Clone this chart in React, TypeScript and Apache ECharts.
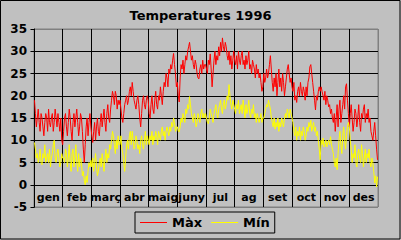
import React, { useEffect, useRef } from 'react';
import * as echarts from 'echarts';

const months = ['gen', 'feb', 'març', 'abr', 'maig', 'juny', 'jul', 'ag', 'set', 'oct', 'nov', 'des'];
const seriesNames = ['Màx', 'Mín'];

const maxJan = [19, 16, 13, 15, 17, 14, 12, 16, 15, 13, 11, 14, 16, 15, 12, 17, 14, 13, 15, 16, 12, 14, 17, 15, 13, 16, 14, 12, 15, 10, 9];
const maxFeb = [12, 15, 16, 13, 11, 14, 17, 15, 12, 10, 14, 16, 13, 15, 17, 14, 11, 13, 16, 15, 12, 8, 5, 9, 13, 15, 11, 14, 16];
const maxMar = [13, 11, 9.5, 12, 14, 10, 13, 15, 12, 11, 14, 16, 13, 15, 17, 14, 12, 16, 18, 15, 14, 17, 19, 21, 20, 18, 21, 20, 17, 19, 18];
const maxApr = [19, 17, 15, 14, 16, 18, 19, 20, 18, 19, 21, 22, 20, 23, 21, 19, 18, 17, 19, 20, 18, 15, 13, 16, 19, 20, 18, 17, 19, 20];
const maxMay = [19, 16, 15, 18, 20, 17, 16, 19, 21, 18, 17, 20, 19, 22, 20, 18, 21, 23, 22, 25, 24, 22, 26, 25, 27, 26, 28, 29.5, 27, 25, 22];
const maxJun = [23, 20, 18.6, 24, 27, 26, 28, 25, 27, 29, 28, 30, 31, 32, 30, 28, 29, 27, 26, 28, 27, 25, 24, 23.8, 26, 27, 25, 28, 26, 27];
const maxJul = [27, 26, 25, 28, 27, 29.4, 26, 22, 25, 28, 30, 27, 29, 28, 31, 29, 32, 30, 33, 31, 30, 32, 31, 29, 28, 30, 27, 29, 26, 28, 30];
const maxAug = [28, 27, 29, 26, 30, 28, 27, 29, 30, 27, 28, 26, 29, 27, 28, 30, 26, 27, 25, 28, 27, 26, 24, 27, 25, 26, 24, 25, 23, 21, 22];
const maxSep = [25, 23, 24, 26, 24, 25, 27, 29, 26, 23, 21, 24, 22, 25, 20, 23, 26, 22, 24, 21, 25, 23, 20, 22, 24, 26, 27, 25, 23, 24];
const maxOct = [22, 21, 23, 19, 20, 18.5, 21, 22, 20, 23, 21, 20, 22, 21, 19, 22, 20, 23, 24, 26.5, 27, 25, 23, 21, 19, 16.8, 20, 19, 21, 22, 21];
const maxNov = [22, 21, 20, 19, 21, 18, 20, 19, 17.5, 18, 16, 17, 15, 14, 16, 12, 15, 18, 13, 17, 19, 14, 16, 18, 20, 17, 22, 22.7, 19, 16];
const maxDec = [13, 16, 18, 15, 12, 14, 17, 16, 13, 15, 18, 14, 12, 16, 15, 17, 18, 14, 16, 15, 17, 14, 15, 12, 11, 10, 12, 14, 11, 8, 5.6];

const minJan = [9.5, 8, 6, 7, 5, 6, 8, 5, 4.5, 7, 6, 9, 5, 6, 7, 5, 8, 4, 6, 7, 9, 10, 6, 5, 7, 8, 6, 4, 5, 7, 6];
const minFeb = [6, 5, 8, 7, 4, 6, 9, 5, 3, 7, 8, 4, 6, 9, 5, 3, 7, 4, 6, 5, 2, 3, 1, 0, 2, 0.5, 3, 5, 4];
const minMar = [5.5, 4, 6, 3, 5, 7, 4, 2, 3, 5, 6, 4, 7, 5, 3, 6, 8, 5, 7, 6, 9, 8, 10, 12, 11, 9, 7, 10, 8, 11, 9];
const minApr = [9, 11, 8, 7, 5, 3, 6, 9, 10, 8, 11, 12, 9, 12, 10, 8, 9, 11, 10, 8, 9, 7, 10, 11, 9, 8, 10, 12, 9, 11];
const minMay = [10, 9, 11, 10, 12, 9, 11, 10, 12, 11, 9, 12, 11, 10, 12, 13, 11, 12, 10, 12, 13, 12, 11, 13, 12, 14, 13, 15, 14, 12, 13];
const minJun = [13, 12, 11.9, 13, 15, 14, 16, 15, 14, 17, 16, 18, 17, 19.8, 18, 16, 15, 14, 16, 15, 13, 14, 16, 15, 14, 16, 17, 15, 16, 15];
const minJul = [16, 15, 14, 13.7, 15, 17, 16, 15, 14, 16, 17, 18, 16, 15, 17, 18, 19, 17, 16, 18, 19, 17, 18, 20, 19, 22.5, 20, 18, 17, 19, 18];
const minAug = [17, 16, 18, 17, 19, 16, 17, 18, 16, 19, 17, 15, 18, 16, 17, 19, 16, 15, 17, 16, 18, 15, 16, 14, 16, 15, 14, 15, 16, 14, 15];
const minSep = [15, 16, 17, 18, 17.5, 19, 18, 17, 15, 14, 13, 15, 12.5, 14, 13, 15, 12, 14, 13, 15, 14, 13, 15, 16, 15, 17, 16, 15, 17, 16];
const minOct = [15, 14, 12, 11, 13, 10, 12, 11, 13, 10, 12, 11, 13, 12, 10, 11, 13, 12, 14, 13, 14.5, 12, 13, 14, 12, 13, 11, 12, 10, 8, 5.6];
const minNov = [10, 9, 10.5, 8.5, 9, 10, 8.5, 9.5, 10, 9, 10.8, 9, 8, 7, 5, 4, 6, 3.4, 7, 10, 12, 9, 7, 11, 13, 10, 8, 11, 13, 14];
const minDec = [13, 10, 8, 5, 7, 6, 9, 5, 4, 7, 8, 6, 5, 9, 7, 4, 6, 8, 5, 7, 6, 8, 5, 4, 6, 5, 3, 0.4, 2, -0.5, 1.8];

const maxAll = [maxJan, maxFeb, maxMar, maxApr, maxMay, maxJun, maxJul, maxAug, maxSep, maxOct, maxNov, maxDec].flat();
const minAll = [minJan, minFeb, minMar, minApr, minMay, minJun, minJul, minAug, minSep, minOct, minNov, minDec].flat();

const FONT = 'DejaVu Sans';

export default function App() {
  const ref = useRef<HTMLDivElement>(null);
  useEffect(() => {
    const chart = echarts.init(ref.current!, null, { renderer: 'svg' });
    const ySplitColors = ['#808080', '#000', '#000', '#000', '#000', '#000', '#000', '#000', '#808080'];
    const xSplitColors = ['#000', '#000', '#000', '#000', '#000', '#000', '#000', '#000', '#000', '#000', '#000', '#000', '#808080'];
    chart.setOption({
      animation: false,
      backgroundColor: '#c0c0c0',
      title: {
        text: 'Temperatures 1996',
        left: 'center',
        top: 9,
        padding: 0,
        textStyle: { fontFamily: FONT, fontSize: 13, fontWeight: 'bold', color: '#000' },
      },
      legend: {
        data: seriesNames,
        left: 135,
        top: 212,
        padding: [4, 5],
        itemGap: 9,
        itemWidth: 27,
        itemHeight: 1,
        icon: 'rect',
        borderColor: '#000',
        borderWidth: 1,
        textStyle: { fontFamily: FONT, fontSize: 13, fontWeight: 'bold', color: '#000', padding: [0, 0, 0, 0] },
      },
      grid: {
        left: 34,
        right: 23,
        top: 29,
        bottom: 33,
        show: true,
        borderColor: '#808080',
        borderWidth: 1,
        backgroundColor: 'transparent',
        containLabel: false,
      },
      xAxis: [
        {
          type: 'category',
          data: months,
          boundaryGap: true,
          axisLine: { show: false },
          axisTick: { show: false },
          axisLabel: {
            interval: 0,
            margin: -15,
            fontFamily: FONT,
            fontSize: 11,
            fontWeight: 'bold',
            color: '#000',
          },
          splitLine: { show: true, interval: 0, lineStyle: { color: xSplitColors, width: 1 } },
        },
        {
          type: 'value',
          min: -0.5,
          max: 365.5,
          show: false,
          splitLine: { show: false },
        },
      ],
      yAxis: {
        type: 'value',
        min: -5,
        max: 35,
        interval: 5,
        axisLine: { show: true, lineStyle: { color: '#000', width: 1 } },
        axisTick: { show: true, length: 4, lineStyle: { color: '#000' } },
        axisLabel: { margin: 7, fontFamily: FONT, fontSize: 12, fontWeight: 'bold', color: '#000' },
        splitLine: { show: true, lineStyle: { color: ySplitColors, width: 1 } },
      },
      series: [
        {
          name: seriesNames[0],
          type: 'line',
          xAxisIndex: 1,
          data: maxAll.map((v, i) => [i, v]),
          showSymbol: false,
          symbol: 'none',
          lineStyle: { color: '#ff0000', width: 1 },
          itemStyle: { color: '#ff0000' },
        },
        {
          name: seriesNames[1],
          type: 'line',
          xAxisIndex: 1,
          data: minAll.map((v, i) => [i, v]),
          showSymbol: false,
          symbol: 'none',
          lineStyle: { color: '#ffff00', width: 1 },
          itemStyle: { color: '#ffff00' },
        },
      ],
      graphic: [
        {
          type: 'rect',
          shape: { x: 0.5, y: 0.5, width: 399.5, height: 238.5 },
          style: { fill: 'none', stroke: '#000', lineWidth: 1 },
          silent: true,
          z: 100,
        },
      ],
    });
    return () => chart.dispose();
  }, []);
  return (
    <div
      ref={ref}
      style={{ position: 'absolute', left: 0, top: 0, width: 401, height: 240 }}
    />
  );
}
